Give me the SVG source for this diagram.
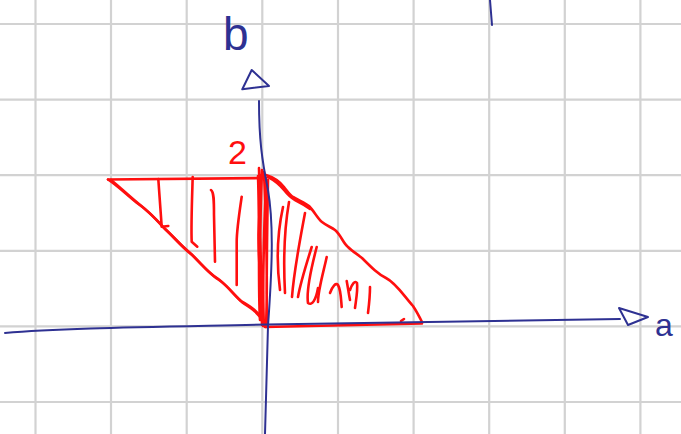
<svg xmlns="http://www.w3.org/2000/svg" width="681" height="434" viewBox="0 0 681 434">
<style>
.grid{stroke:#d2d2d2;stroke-width:2.2;fill:none}
.ink{stroke:#2e3192;stroke-width:2;fill:none;stroke-linecap:round;stroke-linejoin:round}
.red{stroke:#ff0f0f;stroke-width:2.6;fill:none;stroke-linecap:round;stroke-linejoin:round}
.lbl{font-family:"Liberation Sans","DejaVu Sans",sans-serif}
</style>
<rect width="681" height="434" fill="#ffffff"/>
<g id="grid" class="grid">
<path d="M35.5,0V434M111,0V434M186.7,0V434M262.3,0V434M338,0V434M413.6,0V434M489.2,0V434M564.8,0V434M640.4,0V434"/>
<path d="M0,24H681M0,99.6H681M0,175.2H681M0,250.8H681M0,326.4H681M0,402H681"/>
</g>
<g id="region">
<path class="red" d="M108,179.5 L266,178"/>
<path class="red" d="M108,179.5 C118,186 128,196 137,203 C146,209 155,218 163,227 C172,235 180,245 189,252 C199,261 207,272 217,278 C226,284 232,293 241,301 C249,306 256,309 265,322"/>
<path class="red" d="M111,180 C121,188 130,197 139,204 C148,211 157,220 165,229 C174,237 182,247 191,254 C201,263 209,274 219,280 C228,286 234,295 243,303 C251,308 258,312 266,325"/>
<path class="red" d="M266,175 C276,178 280,182 284,187 C288,192 290,195 293,197 C300,201 305,203 309,206 C314,211 318,219 322,222 C327,226 331,227 335,230 C341,235 343,243 348,247 C352,251 357,254 362,258 C372,268 378,274 386,278 C396,283 404,296 413,306 C417,312 419,316 422,322"/>
<path class="red" d="M268,177 C276,181 280,185 284,190 C288,195 291,198 295,200 C301,203 306,206 310,209"/>
<path class="red" d="M265,327 L422,323.5"/>
<path class="red" d="M401,321 L404,319"/>
<path class="red" d="M259,168 L262,325 M262,170 C260,220 259,280 263,326 M264,172 C266,220 268,280 266,327 M261,175 C257,220 258,270 262,300 M266,178 C264,230 262,290 264,326 M268,180 C267,240 266,290 267,325 M258,176 C260,230 258,290 260,320"/>
<path class="red" d="M158.3,179 L161.7,226.7 L168.3,226"/>
<path class="red" d="M192.7,177 C192,200 191,225 191.7,241.7 L197.3,246.7"/>
<path class="red" d="M211,190 C214,192 214,200 214,215 L215,261.7"/>
<path class="red" d="M241.7,196.7 C239,215 236.7,230 236.7,241.7 L236.7,285"/>
<path class="red" d="M289,202 C285,225 283,255 285,293 M283,207 C278,230 276,260 280,290"/>
<path class="red" d="M305,213 C300,240 294,270 292,297"/>
<path class="red" d="M311.7,247 C306,265 300,285 298,297"/>
<path class="red" d="M316.7,247 C312,265 306,290 308,303 C312,306 316,300 318,288"/>
<path class="red" d="M326.7,257 C324,270 318,290 318,302"/>
<path class="red" d="M330,293 C332,287 336,282 338,285 C341,290 341,300 341.7,307"/>
<path class="red" d="M346.7,281 C348,288 349,295 350,300 M350,290 C352,284 355,280 357,283 C358,290 356,300 355,308"/>
<path class="red" d="M370,287 C370,295 369,305 368,313"/>
<text class="lbl" x="228" y="164" font-size="34" fill="#ff0f0f">2</text>
</g>
<g id="axes">
<path class="ink" d="M5,333 C60,328 150,327 266,324.5 L620,319"/>
<path class="ink" d="M619,308 L628,325 L648,317 Z"/>
<path class="ink" d="M259,101 C259,140 262,160 268,190 C274,225 272,270 268,326 L265,434"/>
<path class="ink" d="M251.7,70 L242.3,89.3 L269,86 Z"/>
<path class="ink" d="M490,0 L492,25"/>
</g>
<g id="labels">
<text class="lbl" x="223" y="50" font-size="46" fill="#2e3192">b</text>
<text class="lbl" x="655" y="336" font-size="32" fill="#2e3192">a</text>
</g>
</svg>
